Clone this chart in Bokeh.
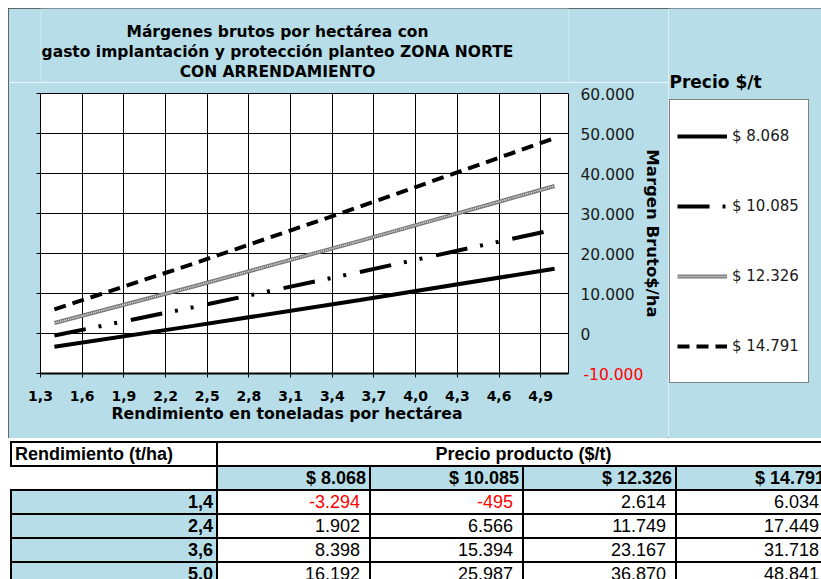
from bokeh.plotting import figure
from bokeh.models import (Range1d, FixedTicker, LinearAxis, CustomJSTickFormatter,
                          Label, Legend, LegendItem, Div, Title)
from bokeh.layouts import column, row
from bokeh.embed import file_html
from bokeh.resources import INLINE

# ---------------- data ----------------
rendimiento = [1.4, 2.4, 3.6, 5.0]
precios = ["$ 8.068", "$ 10.085", "$ 12.326", "$ 14.791"]
m_8068 = [-3294, 1902, 8398, 16192]
m_10085 = [-495, 6566, 15394, 25987]
m_12326 = [2614, 11749, 23167, 36870]
m_14791 = [6034, 17449, 31718, 48841]
x_ticks = [1.3, 1.6, 1.9, 2.2, 2.5, 2.8, 3.1, 3.4, 3.7, 4.0, 4.3, 4.6, 4.9]
y_ticks = [-10000, 0, 10000, 20000, 30000, 40000, 50000, 60000]
title_lines = ["Márgenes brutos por hectárea con",
               "gasto implantación y protección planteo ZONA NORTE",
               "CON ARRENDAMIENTO"]
x_title = "Rendimiento en toneladas por hectárea"
y_title = "Margen Bruto$/ha"
legend_title = "Precio $/t"
table_head = "Rendimiento (t/ha)"
table_group = "Precio producto ($/t)"

BLUE = "#B7DEE8"
FONT = "DejaVu Sans"
DOTS = "return tick.toFixed(0).replace(/\\B(?=(\\d{3})+(?!\\d))/g, '.');"

# ---------------- title strip ----------------
tf = figure(width=660, height=74, x_range=Range1d(0, 1), y_range=Range1d(0, 1),
            x_axis_location=None, y_axis_location=None, toolbar_location=None,
            output_backend="svg", min_border=0, background_fill_color=BLUE,
            border_fill_color=BLUE, outline_line_color=None)
tf.grid.visible = False
for i, t in enumerate(title_lines):
    tf.add_layout(Label(x=237, y=51 - 20 * i, x_units="screen", y_units="screen", text=t,
                        text_align="center", text_baseline="middle", text_font=FONT,
                        text_font_size="15.5px", text_font_style="bold", text_color="black"))

# ---------------- main chart ----------------
p = figure(frame_width=528, frame_height=280,
           x_range=Range1d(1.3, 5.1), y_range=Range1d(-10000, 60000),
           output_backend="svg", toolbar_location=None,
           min_border_left=32, min_border_right=100, min_border_top=11, min_border_bottom=65,
           background_fill_color="white", border_fill_color=BLUE,
           outline_line_color="black", outline_line_width=1)

xa = p.xaxis[0]
xa.ticker = FixedTicker(ticks=x_ticks)
xa.formatter = CustomJSTickFormatter(code="return tick.toFixed(1).replace('.', ',');")
xa.major_label_text_font = FONT
xa.major_label_text_font_size = "14px"
xa.major_label_text_font_style = "bold"
xa.major_label_text_color = "black"
xa.major_tick_out = 4
xa.major_tick_in = 0
xa.minor_tick_line_color = None
xa.axis_line_color = "black"
xa.axis_line_width = 2
xa.major_tick_line_color = "black"
xa.major_label_standoff = 13

ya = p.yaxis[0]
ya.ticker = FixedTicker(ticks=y_ticks)
ya.formatter = CustomJSTickFormatter(code="return '';")
ya.major_tick_out = 4
ya.major_tick_in = 0
ya.minor_tick_line_color = None
ya.axis_line_color = "black"
ya.major_tick_line_color = "black"

# right axis: black labels 0 .. 60.000
ra = LinearAxis(ticker=FixedTicker(ticks=[t for t in y_ticks if t >= 0]),
                formatter=CustomJSTickFormatter(code=DOTS))
ra.major_tick_out = 0
ra.major_tick_in = 0
ra.minor_tick_line_color = None
ra.axis_line_color = None
ra.major_tick_line_color = None
ra.major_label_standoff = 12
ra.major_label_text_font = FONT
ra.major_label_text_font_size = "15.5px"
ra.major_label_text_color = "#1a1a1a"
p.add_layout(ra, "right")

# right axis: red negative label and axis title
rb = LinearAxis(ticker=FixedTicker(ticks=[t for t in y_ticks if t < 0]),
                formatter=CustomJSTickFormatter(code=DOTS))
rb.major_tick_out = 0
rb.major_tick_in = 0
rb.minor_tick_line_color = None
rb.axis_line_color = None
rb.major_tick_line_color = None
rb.major_label_standoff = -54
rb.major_label_text_font = FONT
rb.major_label_text_font_size = "15.5px"
rb.major_label_text_color = "#ff0000"
rb.axis_label = y_title
rb.axis_label_standoff = -3
rb.axis_label_text_font = FONT
rb.axis_label_text_font_size = "16.5px"
rb.axis_label_text_font_style = "bold"
rb.axis_label_text_color = "black"
p.add_layout(rb, "right")

p.xgrid.ticker = FixedTicker(ticks=x_ticks)
p.ygrid.ticker = FixedTicker(ticks=y_ticks)
for g in (p.xgrid, p.ygrid):
    g.grid_line_color = "black"
    g.grid_line_alpha = 1
    g.grid_line_width = 1

DASH2 = "32 13 3 13 3 14"
DASH4 = "12 7"
styles = [dict(line_color="black", line_width=4),
          dict(line_color="black", line_width=4, line_dash=DASH2),
          dict(line_color="#7a7a7a", line_width=4),
          dict(line_color="black", line_width=4, line_dash=DASH4)]
texture = dict(line_color="#e6e6e6", line_width=1.5, line_dash="1 1")
series = [m_8068, m_10085, m_12326, m_14791]

for s, st in zip(series, styles):
    p.line(rendimiento, s, **st)
p.line(rendimiento, m_12326, **texture)

p.add_layout(Title(text=x_title, align="left", offset=71, vertical_align="top", standoff=1,
                   text_font=FONT, text_font_size="15.7px", text_font_style="bold",
                   text_color="black"), "below")

# ---------------- legend strip ----------------
sf = figure(width=153, height=430, x_range=Range1d(0, 1), y_range=Range1d(0, 1),
            x_axis_location=None, y_axis_location=None, toolbar_location=None,
            output_backend="svg", min_border=0, background_fill_color=BLUE,
            border_fill_color=BLUE, outline_line_color=None)
sf.grid.visible = False
# same series drawn here (outside this strip's view) only to provide legend keys
keys = [sf.line(rendimiento, s, **st) for s, st in zip(series, styles)]
k_tex = sf.line(rendimiento, m_12326, **texture)
items = []
for i, (lab, k) in enumerate(zip(precios, keys)):
    rs = [k, k_tex] if i == 2 else [k]
    items.append(LegendItem(label=lab, renderers=rs))
legend = Legend(items=items,
                location=(1, 55), padding=7, spacing=12, margin=0,
                label_height=58, glyph_height=58, glyph_width=50, label_standoff=5,
                label_width=69,
                border_line_color="black", border_line_width=1,
                background_fill_color="white", background_fill_alpha=1,
                label_text_font=FONT, label_text_font_size="15px",
                label_text_color="#1a1a1a")
sf.add_layout(legend, "center")
sf.add_layout(Label(x=1, y=357, x_units="screen", y_units="screen", text=legend_title,
                    text_align="left", text_baseline="middle", text_font=FONT,
                    text_font_size="17px", text_font_style="bold", text_color="black"))

# ---------------- table ----------------
def fmt(v):
    return f"{v:,}".replace(",", ".")

B = "2px solid #000"
base = "font-family:Liberation Sans,Arial,sans-serif;font-size:18px;line-height:20px;padding:0;"
rows = []
rows.append(
    f'<tr style="height:24px">'
    f'<td style="{base}border:{B};background:#fff;font-weight:bold;text-align:left;padding-left:3px">{table_head}</td>'
    f'<td colspan="4" style="{base}border-top:{B};border-left:{B};background:#fff;font-weight:bold;text-align:center">{table_group}</td>'
    f'</tr>')
hdr = "".join(
    f'<td style="{base}border:{B};background:{BLUE};font-weight:bold;text-align:right;padding-right:3px">{pr}</td>'
    for pr in precios)
rows.append(f'<tr style="height:24px"><td style="{base}border:none;background:#fff"></td>{hdr}</tr>')
for i, r in enumerate(rendimiento):
    lab = f"{r:.1f}".replace(".", ",")
    cells = f'<td style="{base}border:{B};background:{BLUE};font-weight:bold;text-align:right;padding-right:3px">{lab}</td>'
    for s in series:
        v = s[i]
        col = "#ff0000" if v < 0 else "#000"
        cells += f'<td style="{base}border:{B};background:#fff;color:{col};text-align:right;padding-right:9px">{fmt(v)}</td>'
    rows.append(f'<tr style="height:24px">{cells}</tr>')

html = ('<table style="border-collapse:collapse;table-layout:fixed;width:818px;margin:3px 0 0 10px">'
        '<colgroup><col style="width:206px"><col style="width:153px"><col style="width:153px">'
        '<col style="width:153px"><col style="width:153px"></colgroup>'
        + "".join(rows) + "</table>")

div = Div(text=html, width=821, height=141, margin=0, styles={"overflow": "hidden"})

top = row(column(tf, p), sf, margin=(8, 0, 0, 8),
          styles={"outline": "1px solid #404040", "outline-offset": "-1px"})
layout = column(top, div)
open("out.html", "w").write(file_html(layout, INLINE))
